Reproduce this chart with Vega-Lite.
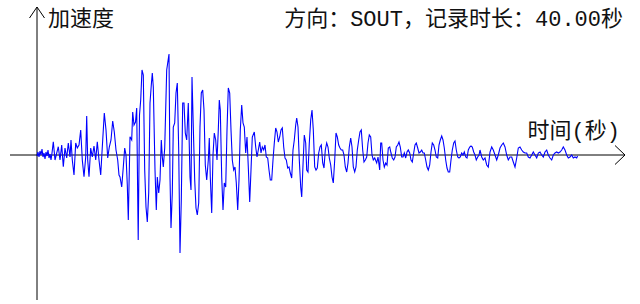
{
"$schema": "https://vega.github.io/schema/vega-lite/v6.json",
"width": 640, "height": 304,
"autosize": {"type": "fit", "contains": "padding"},
"padding": 0,
"background": "white",
"config": {"view": {"stroke": null}},
"datasets": {
"wave": [
{"t":0,"a":-1},{"t":0.074,"a":3},{"t":0.148,"a":-2},{"t":0.222,"a":4},{"t":0.296,"a":0},{"t":0.37,"a":6},{"t":0.444,"a":-2},{"t":0.518,"a":2},{"t":0.592,"a":-4},{"t":0.666,"a":3},{"t":0.74,"a":-1},{"t":0.814,"a":5},{"t":0.888,"a":-3},{"t":0.962,"a":1},{"t":1.036,"a":-5},{"t":1.11,"a":2},
{"t":1.206,"a":13.3},{"t":1.332,"a":-5},{"t":1.576,"a":8.3},{"t":1.702,"a":-5},{"t":1.828,"a":10},{"t":1.946,"a":-11.7},{"t":2.072,"a":7},{"t":2.198,"a":-3},{"t":2.316,"a":12},{"t":2.442,"a":-2},{"t":2.516,"a":15},{"t":2.612,"a":-5},{"t":2.738,"a":-20},{"t":2.864,"a":12},{"t":2.982,"a":7},{"t":3.108,"a":10},{"t":3.234,"a":25},{"t":3.352,"a":-5},{"t":3.478,"a":-21.7},{"t":3.604,"a":-2},{"t":3.678,"a":39},{"t":3.752,"a":-5},{"t":3.848,"a":-21.7},{"t":3.974,"a":7},{"t":4.092,"a":-2},{"t":4.218,"a":9},{"t":4.344,"a":-5},{"t":4.462,"a":13.3},{"t":4.588,"a":-5},{"t":4.714,"a":-20},{"t":4.832,"a":8},{"t":4.98,"a":42},{"t":5.106,"a":25},{"t":5.232,"a":-3},{"t":5.35,"a":8},{"t":5.476,"a":15},{"t":5.602,"a":34},{"t":5.72,"a":23},{"t":5.846,"a":5},{"t":5.972,"a":-5},{"t":6.068,"a":-20},{"t":6.142,"a":-22},{"t":6.268,"a":-32},{"t":6.386,"a":-12},{"t":6.49,"a":7},{"t":6.586,"a":0},{"t":6.682,"a":-30},{"t":6.756,"a":-65},{"t":6.882,"a":18.3},{"t":7.008,"a":15},{"t":7.082,"a":43},{"t":7.178,"a":30},{"t":7.289,"a":33},{"t":7.378,"a":47},{"t":7.489,"a":-85},{"t":7.585,"a":40},{"t":7.674,"a":55},{"t":7.77,"a":85},{"t":7.866,"a":80},{"t":7.97,"a":-15},{"t":8.066,"a":-52},{"t":8.162,"a":-67},{"t":8.266,"a":-38},{"t":8.362,"a":52},{"t":8.458,"a":70},{"t":8.532,"a":82},{"t":8.606,"a":68},{"t":8.732,"a":-15},{"t":8.828,"a":-55},{"t":8.902,"a":-22},{"t":9.006,"a":-38},{"t":9.102,"a":-25},{"t":9.198,"a":15},{"t":9.272,"a":-2},{"t":9.346,"a":-12},{"t":9.45,"a":7},{"t":9.598,"a":85},{"t":9.768,"a":101},{"t":9.842,"a":-22},{"t":9.916,"a":-73},{"t":10.012,"a":-38},{"t":10.086,"a":28},{"t":10.19,"a":32},{"t":10.286,"a":62},{"t":10.382,"a":72},{"t":10.486,"a":5},{"t":10.582,"a":-98},{"t":10.678,"a":-45},{"t":10.782,"a":52},{"t":10.878,"a":52},{"t":10.974,"a":22},{"t":11.078,"a":15},{"t":11.196,"a":52},{"t":11.322,"a":-22},{"t":11.396,"a":-35},{"t":11.47,"a":78},{"t":11.566,"a":28},{"t":11.67,"a":-25},{"t":11.766,"a":-53},{"t":11.862,"a":-60},{"t":11.966,"a":-48},{"t":12.062,"a":28},{"t":12.158,"a":62},{"t":12.262,"a":65},{"t":12.358,"a":45},{"t":12.454,"a":-10},{"t":12.558,"a":-25},{"t":12.676,"a":-5},{"t":12.75,"a":17},{"t":12.824,"a":-22},{"t":12.928,"a":-58},{"t":13.024,"a":0},{"t":13.12,"a":22},{"t":13.224,"a":15},{"t":13.32,"a":-5},{"t":13.416,"a":25},{"t":13.49,"a":55},{"t":13.564,"a":45},{"t":13.668,"a":-22},{"t":13.764,"a":-55},{"t":13.86,"a":-28},{"t":13.964,"a":-32},{"t":14.06,"a":25},{"t":14.156,"a":67},{"t":14.26,"a":62},{"t":14.356,"a":25},{"t":14.452,"a":-5},{"t":14.556,"a":-15},{"t":14.652,"a":-12},{"t":14.748,"a":-28},{"t":14.852,"a":-55},{"t":14.948,"a":-25},{"t":15.044,"a":25},{"t":15.148,"a":50},{"t":15.244,"a":32},{"t":15.34,"a":28},{"t":15.444,"a":2},{"t":15.54,"a":18},{"t":15.636,"a":-12},{"t":15.74,"a":-47},{"t":15.836,"a":-15},{"t":15.932,"a":18},{"t":16.08,"a":23},{"t":16.184,"a":8},{"t":16.28,"a":-2},{"t":16.376,"a":5},{"t":16.48,"a":13},{"t":16.576,"a":2},{"t":16.672,"a":8},{"t":16.776,"a":5},{"t":16.872,"a":10},{"t":16.968,"a":-2},{"t":17.072,"a":-3},{"t":17.168,"a":-15},{"t":17.264,"a":-25},{"t":17.368,"a":-25},{"t":17.464,"a":-5},{"t":17.56,"a":12},{"t":17.664,"a":27},{"t":17.76,"a":23},{"t":17.856,"a":13},{"t":17.96,"a":18},{"t":18.056,"a":25},{"t":18.152,"a":27},{"t":18.256,"a":8},{"t":18.352,"a":-3},{"t":18.448,"a":-5},{"t":18.552,"a":-13},{"t":18.648,"a":-12},{"t":18.744,"a":-18},{"t":18.848,"a":-23},{"t":18.944,"a":5},{"t":19.04,"a":15},{"t":19.144,"a":30},{"t":19.218,"a":37},{"t":19.314,"a":28},{"t":19.41,"a":-5},{"t":19.514,"a":-32},{"t":19.588,"a":-42},{"t":19.684,"a":-10},{"t":19.78,"a":20},{"t":19.884,"a":12},{"t":19.958,"a":-15},{"t":20.054,"a":-17},{"t":20.15,"a":12},{"t":20.254,"a":35},{"t":20.35,"a":45},{"t":20.446,"a":25},{"t":20.55,"a":-12},{"t":20.646,"a":-15},{"t":20.742,"a":-13},{"t":20.846,"a":2},{"t":20.942,"a":8},{"t":21.038,"a":10},{"t":21.142,"a":-8},{"t":21.238,"a":-13},{"t":21.334,"a":5},{"t":21.438,"a":12},{"t":21.534,"a":8},{"t":21.63,"a":-3},{"t":21.734,"a":-10},{"t":21.83,"a":-22},{"t":21.926,"a":-28},{"t":22.03,"a":-5},{"t":22.126,"a":22},{"t":22.222,"a":18},{"t":22.326,"a":10},{"t":22.422,"a":7},{"t":22.518,"a":5},{"t":22.622,"a":5},{"t":22.718,"a":0},{"t":22.814,"a":-12},{"t":22.918,"a":-17},{"t":23.014,"a":-8},{"t":23.11,"a":8},{"t":23.214,"a":17},{"t":23.31,"a":8},{"t":23.406,"a":-12},{"t":23.51,"a":-17},{"t":23.606,"a":-12},{"t":23.702,"a":5},{"t":23.806,"a":15},{"t":23.902,"a":23},{"t":23.998,"a":25},{"t":24.102,"a":5},{"t":24.198,"a":-7},{"t":24.294,"a":-5},{"t":24.398,"a":-2},{"t":24.494,"a":12},{"t":24.59,"a":20},{"t":24.694,"a":18},{"t":24.79,"a":0},{"t":24.886,"a":-5},{"t":24.99,"a":-3},{"t":25.138,"a":-8},{"t":25.234,"a":-2},{"t":25.36,"a":-15},{"t":25.434,"a":12},{"t":25.508,"a":12},{"t":25.604,"a":-5},{"t":25.7,"a":-12},{"t":25.804,"a":-8},{"t":25.9,"a":-10},{"t":25.996,"a":7},{"t":26.1,"a":8},{"t":26.196,"a":2},{"t":26.292,"a":-3},{"t":26.396,"a":-5},{"t":26.492,"a":-2},{"t":26.588,"a":8},{"t":26.692,"a":10},{"t":26.788,"a":13},{"t":26.884,"a":8},{"t":26.988,"a":-2},{"t":27.084,"a":-2},{"t":27.18,"a":2},{"t":27.284,"a":-3},{"t":27.38,"a":3},{"t":27.476,"a":5},{"t":27.58,"a":2},{"t":27.676,"a":-5},{"t":27.772,"a":-7},{"t":27.876,"a":2},{"t":27.972,"a":10},{"t":28.068,"a":12},{"t":28.172,"a":7},{"t":28.268,"a":2},{"t":28.364,"a":3},{"t":28.468,"a":5},{"t":28.564,"a":2},{"t":28.66,"a":2},{"t":28.764,"a":-5},{"t":28.86,"a":-12},{"t":28.956,"a":-15},{"t":29.06,"a":-10},{"t":29.156,"a":3},{"t":29.252,"a":12},{"t":29.356,"a":10},{"t":29.452,"a":5},{"t":29.548,"a":-2},{"t":29.652,"a":-3},{"t":29.748,"a":10},{"t":29.844,"a":15},{"t":29.948,"a":19},{"t":30.044,"a":15},{"t":30.14,"a":7},{"t":30.244,"a":-5},{"t":30.34,"a":-13},{"t":30.436,"a":-17},{"t":30.54,"a":-17},{"t":30.636,"a":-5},{"t":30.732,"a":5},{"t":30.836,"a":12},{"t":30.932,"a":14},{"t":31.028,"a":5},{"t":31.132,"a":-2},{"t":31.228,"a":-3},{"t":31.324,"a":-2},{"t":31.428,"a":2},{"t":31.524,"a":0},{"t":31.62,"a":3},{"t":31.724,"a":-2},{"t":31.82,"a":-3},{"t":31.916,"a":5},{"t":32.02,"a":8},{"t":32.116,"a":9},{"t":32.212,"a":8},{"t":32.316,"a":3},{"t":32.412,"a":0},{"t":32.508,"a":-5},{"t":32.612,"a":-2},{"t":32.708,"a":0},{"t":32.782,"a":5},{"t":32.908,"a":-2},{"t":33.026,"a":-5},{"t":33.152,"a":-3},{"t":33.278,"a":-10},{"t":33.396,"a":-12},{"t":33.522,"a":3},{"t":33.648,"a":8},{"t":33.766,"a":5},{"t":33.892,"a":0},{"t":34.018,"a":-5},{"t":34.136,"a":0},{"t":34.262,"a":7},{"t":34.388,"a":10},{"t":34.506,"a":12},{"t":34.632,"a":8},{"t":34.758,"a":0},{"t":34.876,"a":-5},{"t":35.002,"a":-2},{"t":35.128,"a":-2},{"t":35.246,"a":-7},{"t":35.372,"a":-12},{"t":35.498,"a":-3},{"t":35.616,"a":7},{"t":35.742,"a":8},{"t":35.868,"a":5},{"t":35.986,"a":3},{"t":36.112,"a":2},{"t":36.238,"a":2},{"t":36.356,"a":-2},{"t":36.482,"a":-3},{"t":36.608,"a":0},{"t":36.726,"a":3},{"t":36.852,"a":0},{"t":36.978,"a":-3},{"t":37.096,"a":2},{"t":37.222,"a":3},{"t":37.348,"a":0},{"t":37.466,"a":-2},{"t":37.592,"a":3},{"t":37.718,"a":5},{"t":37.836,"a":0},{"t":37.962,"a":-3},{"t":38.088,"a":-5},{"t":38.206,"a":0},{"t":38.332,"a":2},{"t":38.458,"a":3},{"t":38.576,"a":2},{"t":38.702,"a":3},{"t":38.828,"a":5},{"t":38.946,"a":8},{"t":39.072,"a":5},{"t":39.198,"a":0},{"t":39.316,"a":-3},{"t":39.442,"a":-2},{"t":39.568,"a":0},{"t":39.686,"a":-3},{"t":39.812,"a":-2},{"t":39.938,"a":-3},{"t":40.0,"a":-1}
],
"segs": [
{"x1":-1.998,"y1":0,"x2":43.512,"y2":0},
{"x1":42.772,"y1":9.5,"x2":43.512,"y2":0},
{"x1":42.772,"y1":-9.5,"x2":43.512,"y2":0},
{"x1":0,"y1":-145,"x2":0,"y2":148},
{"x1":-0.555,"y1":137,"x2":0,"y2":148},
{"x1":0.555,"y1":137,"x2":0,"y2":148}
],
"labelsL": [
{"t":0.814,"a":129,"label":"加速度"}
],
"labelsR": [
{"t":43.364,"a":129,"label":"方向：SOUT，记录时长：40.00秒"},
{"t":43.142,"a":17.5,"label":"时间(秒)"}
]
},
"layer": [
{
"data": {"name": "segs"},
"mark": {"type": "rule", "color": "#000000", "strokeWidth": 1},
"encoding": {
"x": {"field": "x1", "type": "quantitative", "scale": {"domain": [-2.738, 44.622], "nice": false, "zero": false}, "axis": null},
"x2": {"field": "x2"},
"y": {"field": "y1", "type": "quantitative", "scale": {"domain": [-149, 155], "nice": false, "zero": false}, "axis": null},
"y2": {"field": "y2"}
}
},
{
"data": {"name": "wave"},
"mark": {"type": "line", "color": "#0000ff", "strokeWidth": 1.1, "interpolate": "linear"},
"encoding": {
"x": {"field": "t", "type": "quantitative", "scale": {"domain": [-2.738, 44.622], "nice": false, "zero": false}, "axis": null},
"y": {"field": "a", "type": "quantitative", "scale": {"domain": [-149, 155], "nice": false, "zero": false}, "axis": null}
}
},
{
"data": {"name": "labelsL"},
"mark": {"type": "text", "align": "left", "baseline": "alphabetic", "font": "Liberation Mono, Noto Sans CJK SC", "fontSize": 22, "color": "#111111"},
"encoding": {
"x": {"field": "t", "type": "quantitative", "scale": {"domain": [-2.738, 44.622], "nice": false, "zero": false}, "axis": null},
"y": {"field": "a", "type": "quantitative", "scale": {"domain": [-149, 155], "nice": false, "zero": false}, "axis": null},
"text": {"field": "label"}
}
},
{
"data": {"name": "labelsR"},
"mark": {"type": "text", "align": "right", "baseline": "alphabetic", "font": "Liberation Mono, Noto Sans CJK SC", "fontSize": 22, "color": "#111111"},
"encoding": {
"x": {"field": "t", "type": "quantitative", "scale": {"domain": [-2.738, 44.622], "nice": false, "zero": false}, "axis": null},
"y": {"field": "a", "type": "quantitative", "scale": {"domain": [-149, 155], "nice": false, "zero": false}, "axis": null},
"text": {"field": "label"}
}
}
]
}
